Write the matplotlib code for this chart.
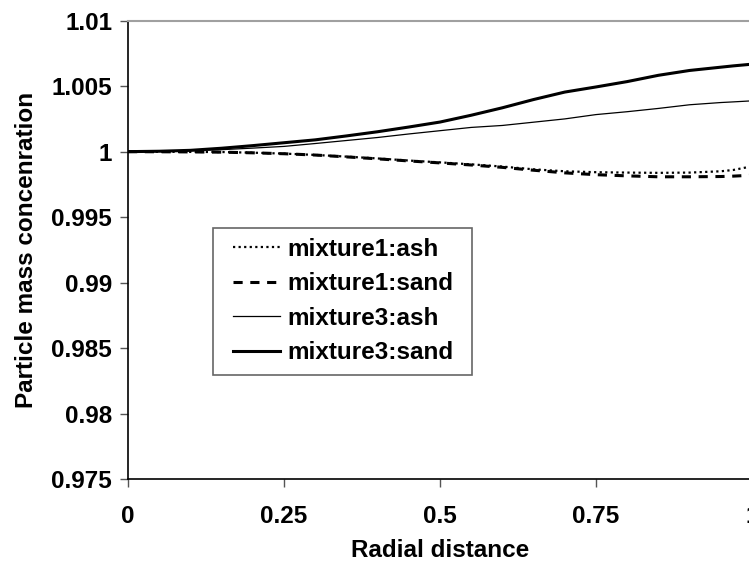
import numpy as np
import matplotlib
matplotlib.use('Agg')
import matplotlib.pyplot as plt
from matplotlib.patches import Rectangle

plt.rcParams['font.family'] = ['Liberation Sans', 'DejaVu Sans']
plt.rcParams['font.weight'] = 'bold'

# radial positions
r = [0.0, 0.05, 0.1, 0.15, 0.2, 0.25, 0.3, 0.35, 0.4, 0.45, 0.5,
     0.55, 0.6, 0.65, 0.7, 0.75, 0.8, 0.85, 0.9, 0.95, 0.97, 1.0]

mix1_ash = [1.0, 0.99999, 0.99998, 0.99997, 0.99992, 0.99985, 0.99975, 0.99962, 0.99948, 0.99932, 0.99918,
            0.99903, 0.99886, 0.99865, 0.9985, 0.99843, 0.9984, 0.99838, 0.9984, 0.9985, 0.9986, 0.99888]
mix1_sand = [1.0, 0.99999, 0.99998, 0.99996, 0.99991, 0.99984, 0.99974, 0.9996, 0.99945, 0.99929, 0.99914,
             0.99898, 0.9988, 0.99858, 0.99838, 0.99824, 0.99815, 0.99808, 0.99808, 0.9981, 0.99813, 0.9982]
mix3_ash = [1.0, 1.00002, 1.00007, 1.00015, 1.00027, 1.0004, 1.00062, 1.00085, 1.00108, 1.00135, 1.0016,
            1.00185, 1.002, 1.00225, 1.0025, 1.00283, 1.00305, 1.0033, 1.00358, 1.00375, 1.0038, 1.00388]
mix3_sand = [1.0, 1.00003, 1.0001, 1.00026, 1.00046, 1.00068, 1.0009, 1.0012, 1.00152, 1.00188, 1.00226,
             1.00278, 1.00335, 1.00398, 1.00455, 1.00494, 1.00535, 1.00583, 1.0062, 1.00645, 1.00655, 1.00668]

xticks = [0, 0.25, 0.5, 0.75, 1]
xticklabels = ['0', '0.25', '0.5', '0.75', '1']
yticks = [0.975, 0.98, 0.985, 0.99, 0.995, 1, 1.005, 1.01]
yticklabels = ['0.975', '0.98', '0.985', '0.99', '0.995', '1', '1.005', '1.01']

W, H = 749, 567
FS = 17.5
fig = plt.figure(figsize=(W / 100, H / 100), dpi=100)
ax = fig.add_axes([128 / W, 1 - 479 / H, (752 - 128) / W, (479 - 20.7) / H])

ax.plot(r, mix1_ash, color='black', lw=1.6, linestyle=(0, (1, 1.5)), label='mixture1:ash')
ax.plot(r, mix1_sand, color='black', lw=2.2, linestyle=(0, (3, 2.5)), label='mixture1:sand')
ax.plot(r, mix3_ash, color='black', lw=0.9, label='mixture3:ash')
ax.plot(r, mix3_sand, color='black', lw=2.2, label='mixture3:sand')

ax.set_xlim(0, 1)
ax.set_ylim(0.975, 1.01)
ax.set_xticks(xticks)
ax.set_xticklabels(xticklabels)
ax.set_yticks(yticks)
ax.set_yticklabels(yticklabels)
ax.tick_params(labelsize=FS, length=5.5, width=1, color='#555555', pad=6)
ax.tick_params(axis='x', pad=13)

ax.spines['right'].set_visible(False)
ax.spines['top'].set_color('#a0a0a0')
ax.spines['top'].set_linewidth(1.5)
ax.spines['left'].set_linewidth(1.2)
ax.spines['bottom'].set_linewidth(1.2)

ax.set_xlabel('Radial distance', fontsize=FS, fontweight='bold')
ax.set_ylabel('Particle mass concenration', fontsize=FS, fontweight='bold')
ax.xaxis.set_label_coords(0.5, -(539 - 479) / 458.3)
ax.yaxis.set_label_coords(-(128 - 38) / 624, 0.5)

# legend box drawn by hand, entries placed inside it
fig.patches.append(Rectangle((213 / W, 1 - 375 / H), (472 - 213) / W, (375 - 228) / H,
                             transform=fig.transFigure, facecolor='white',
                             edgecolor='#666666', linewidth=1.2, zorder=3))
leg = fig.legend(loc='upper left', bbox_to_anchor=(233 / W, 1 - 238 / H), fontsize=FS,
                 frameon=False, handlelength=1.95, handletextpad=0.3,
                 labelspacing=0.47, borderpad=0, borderaxespad=0)
leg.set_zorder(4)
for t in leg.get_texts():
    t.set_fontweight('bold')

fig.savefig('out.png', dpi=100)
